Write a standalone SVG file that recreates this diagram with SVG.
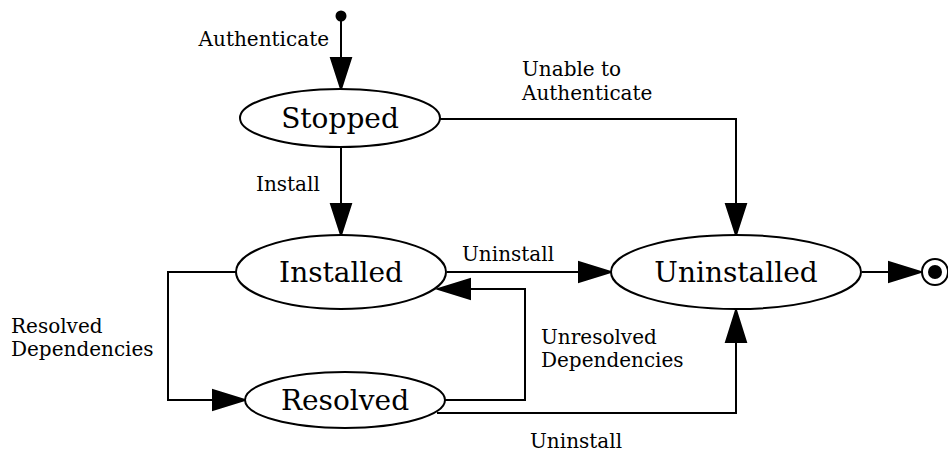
<svg xmlns="http://www.w3.org/2000/svg" width="948" height="453" viewBox="0 0 948 453">
  <style>
    .node ellipse { fill: #ffffff; stroke: #000000; stroke-width: 2; }
    .node text { font-family: "DejaVu Serif", serif; font-size: 28px; text-anchor: middle; fill: #000000; }
    .edge { fill: none; stroke: #000000; stroke-width: 2; }
    .head { fill: #000000; stroke: #000000; stroke-width: 2; }
    .lbl { font-family: "DejaVu Serif", serif; font-size: 20px; fill: #000000; }
  </style>
  <rect width="948" height="453" fill="#ffffff"/>

  <g id="connectors">
    <!-- start -> Stopped -->
    <path class="edge" d="M341,16 V58"/>
    <polygon class="head" points="331,58 351,58 341,89"/>
    <text class="lbl" x="329" y="46" text-anchor="end">Authenticate</text>

    <!-- Stopped -> Installed -->
    <path class="edge" d="M341,147 V204"/>
    <polygon class="head" points="331,204 351,204 341,235"/>
    <text class="lbl" x="256" y="191">Install</text>

    <!-- Stopped -> Uninstalled -->
    <path class="edge" d="M440,119 H736 V204"/>
    <polygon class="head" points="726,204 746,204 736,235"/>
    <text class="lbl" x="522" y="76">Unable to</text>
    <text class="lbl" x="522" y="100">Authenticate</text>

    <!-- Installed -> Uninstalled -->
    <path class="edge" d="M447,272 H579"/>
    <polygon class="head" points="579,262 579,282 611,272"/>
    <text class="lbl" x="462" y="261">Uninstall</text>

    <!-- Installed -> Resolved -->
    <path class="edge" d="M236,272 H168 V400 H213"/>
    <polygon class="head" points="213,390 213,410 245,400"/>
    <text class="lbl" x="11" y="333">Resolved</text>
    <text class="lbl" x="11" y="356">Dependencies</text>

    <!-- Resolved -> Installed -->
    <path class="edge" d="M445,400 H525 V289 H470"/>
    <polygon class="head" points="470,279 470,299 438,289"/>
    <text class="lbl" x="541" y="344">Unresolved</text>
    <text class="lbl" x="541" y="367">Dependencies</text>

    <!-- Resolved -> Uninstalled -->
    <path class="edge" d="M437,413 H736 V342"/>
    <polygon class="head" points="726,342 746,342 736,310"/>
    <text class="lbl" x="530" y="448">Uninstall</text>

    <!-- Uninstalled -> end -->
    <path class="edge" d="M862,272 H889"/>
    <polygon class="head" points="889,262 889,282 921,272"/>
  </g>

  <g id="start">
    <circle cx="341" cy="16" r="5.5" fill="#000000"/>
  </g>

  <g id="stopped" class="node">
    <ellipse cx="340" cy="118" rx="100" ry="29"/>
    <text x="340" y="128">Stopped</text>
  </g>

  <g id="installed" class="node">
    <ellipse cx="341" cy="272" rx="105" ry="37"/>
    <text x="341" y="282">Installed</text>
  </g>

  <g id="resolved" class="node">
    <ellipse cx="345" cy="400" rx="100" ry="28"/>
    <text x="345" y="410">Resolved</text>
  </g>

  <g id="uninstalled" class="node">
    <ellipse cx="736" cy="272" rx="125" ry="37"/>
    <text x="736" y="282">Uninstalled</text>
  </g>

  <g id="end">
    <circle cx="935" cy="272" r="13" fill="#ffffff" stroke="#000000" stroke-width="2"/>
    <circle cx="935" cy="272" r="7" fill="#000000"/>
  </g>
</svg>
